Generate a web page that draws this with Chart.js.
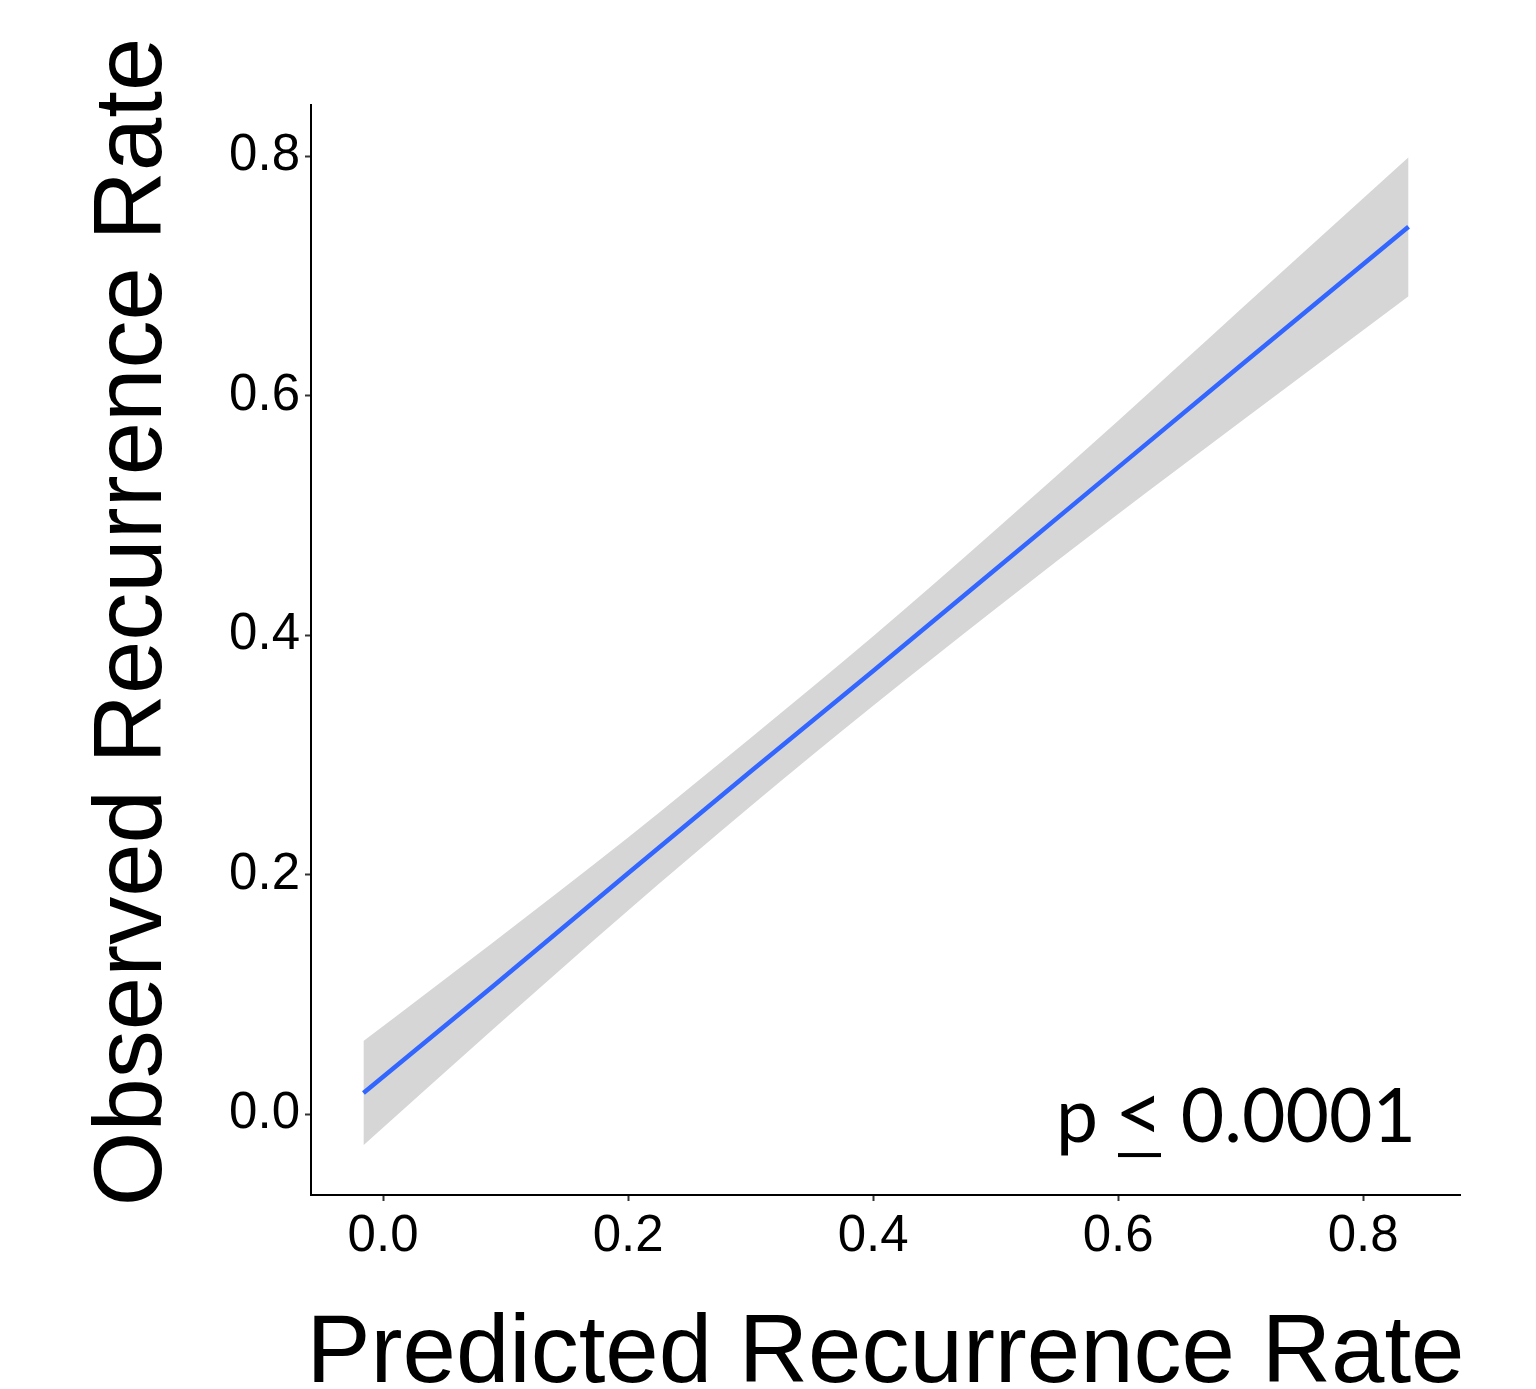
<!DOCTYPE html>
<html>
<head>
<meta charset="utf-8">
<script src="https://cdn.jsdelivr.net/npm/chart.js@4.4.1/dist/chart.umd.min.js"></script>
<style>
  html, body { margin: 0; padding: 0; background: #fff; }
  canvas { display: block; }
</style>
</head>
<body>
<canvas id="chart_container" width="1536" height="1389"></canvas>
<script>
// values
const predicted = [-0.016, 0.09, 0.2, 0.3, 0.4, 0.5, 0.6, 0.7, 0.837]
const fitted    = [0.0175, 0.107, 0.201, 0.286, 0.370, 0.455, 0.540, 0.625, 0.741]
const upperCI   = [0.061, 0.1435, 0.231, 0.314, 0.399, 0.488, 0.579, 0.672, 0.799]
const lowerCI   = [-0.026, 0.071, 0.170, 0.257, 0.341, 0.422, 0.501, 0.578, 0.683]

const xTicks = [0.0, 0.2, 0.4, 0.6, 0.8]
const yTicks = [0.0, 0.2, 0.4, 0.6, 0.8]

const xTitle = 'Predicted Recurrence Rate'
const yTitle = 'Observed Recurrence Rate'
const pLabel = ['p', '<', '0.0001']

const toPoints = (ys) => predicted.map((x, i) => ({ x: x, y: ys[i] }))

const axisTitles = {
    id: 'axisTitles',
    afterDraw(chart) {
        const { ctx, chartArea, scales } = chart
        ctx.save()
        ctx.fillStyle = '#000'
        ctx.font = '96px "Liberation Sans", Arial, sans-serif'
        ctx.textAlign = 'center'
        ctx.textBaseline = 'alphabetic'
        ctx.fillText(xTitle, (chartArea.left + chartArea.right) / 2, 1382)

        ctx.translate(161, 622)
        ctx.rotate(-Math.PI / 2)
        ctx.fillText(yTitle, 0, 0)
        ctx.restore()

        // p value note, placed in data units
        ctx.save()
        ctx.fillStyle = '#000'
        ctx.font = '75px Lato, "Open Sans", sans-serif'
        ctx.textBaseline = 'alphabetic'
        const base  = scales.y.getPixelForValue(-0.0234)
        const right = scales.x.getPixelForValue(0.843)
        ctx.textAlign = 'right'
        ctx.fillText(pLabel[2], right, base)
        ctx.textAlign = 'left'
        ctx.fillText(pLabel[0], 1056, base)
        ctx.font = '84px Lato, "Open Sans", sans-serif'
        ctx.textAlign = 'center'
        ctx.fillText(pLabel[1], 1139, base)
        ctx.fillRect(1118, base + 11, 43, 4)
        ctx.restore()
    }
}

const axisStyle = (ticks) => ({
    type: 'linear',
    afterBuildTicks: (scale) => { scale.ticks = ticks.map(v => ({ value: v })) },
    grid: {
        display: true,
        drawOnChartArea: false,
        drawTicks: true,
        tickLength: 6,
        tickWidth: 2,
        tickColor: '#333333'
    },
    border: { display: true, color: '#000', width: 2 },
    ticks: {
        color: '#000',
        padding: 5,
        font: { family: '"Liberation Sans", Arial, sans-serif', size: 51 },
        callback: (v) => Number(v).toFixed(1)
    }
})

const xScale = axisStyle(xTicks)
xScale.min = -0.0588
xScale.max = 0.879
xScale.afterFit = (scale) => { scale.height = 194 }

const yScale = axisStyle(yTicks)
yScale.min = -0.0676
yScale.max = 0.8426
yScale.afterFit = (scale) => { scale.width = 311 }

new Chart(document.getElementById('chart_container'), {
    type: 'scatter',
    data: {
        datasets: [
            {
                label: 'fit',
                data: toPoints(fitted),
                showLine: true,
                borderColor: '#3366FF',
                borderWidth: 4.5,
                pointRadius: 0,
                fill: false
            },
            {
                label: 'lower',
                data: toPoints(lowerCI),
                showLine: true,
                cubicInterpolationMode: 'monotone',
                borderWidth: 0,
                borderColor: 'rgba(0,0,0,0)',
                pointRadius: 0,
                fill: false
            },
            {
                label: 'upper',
                data: toPoints(upperCI),
                showLine: true,
                cubicInterpolationMode: 'monotone',
                borderWidth: 0,
                borderColor: 'rgba(0,0,0,0)',
                backgroundColor: 'rgb(214,214,214)',
                pointRadius: 0,
                fill: '-1'
            }
        ]
    },
    options: {
        responsive: false,
        animation: false,
        layout: { padding: { top: 105, right: 76, left: 0, bottom: 0 } },
        plugins: {
            legend: { display: false },
            tooltip: { enabled: false }
        },
        scales: { x: xScale, y: yScale }
    },
    plugins: [axisTitles]
})
</script>
</body>
</html>
